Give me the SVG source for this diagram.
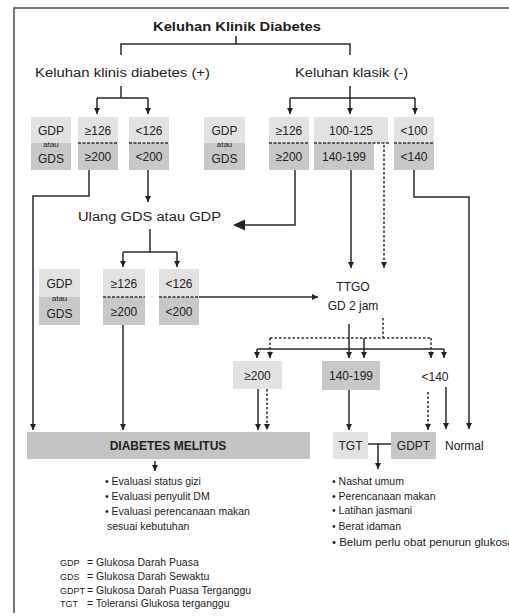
<svg xmlns="http://www.w3.org/2000/svg" width="509" height="616" viewBox="0 0 509 616">
  <defs>
    <marker id="arr" markerUnits="userSpaceOnUse" markerWidth="7" markerHeight="7" refX="6" refY="3.5" orient="auto">
      <path d="M0,0.5 L6,3.5 L0,6.5 Z" fill="#222"/>
    </marker>
  </defs>
  <style>
    text { font-family: "Liberation Sans", Arial, sans-serif; fill: #222; }
    .t { font-size: 12px; text-anchor: middle; }
    .s { font-size: 8px; text-anchor: middle; }
    .lbl { font-size: 12px; }
    .small { font-size: 10.5px; }
    .abbr { font-size: 9px; }
    .light { fill: #e2e2e2; }
    .dark { fill: #c8c8c8; }
    .ln { fill: none; stroke: #2a2a2a; stroke-width: 1.5; }
    .dash { fill: none; stroke: #2a2a2a; stroke-width: 1.5; stroke-dasharray: 2.5 2; }
    .div { stroke: #333; stroke-width: 1.5; stroke-dasharray: 3 1.5; }
    .frame { fill: none; stroke: #777; stroke-width: 2; }
  </style>
  <rect width="509" height="616" fill="#fff"/>
  <path class="frame" d="M14,613 V8 H509"/>

  <g id="title">
    <text x="237" y="31" font-size="13" font-weight="bold" text-anchor="middle" textLength="168" lengthAdjust="spacingAndGlyphs">Keluhan Klinik Diabetes</text>
  </g>
  <g id="klinis-plus">
    <text class="lbl" x="35" y="77" textLength="175" lengthAdjust="spacingAndGlyphs">Keluhan klinis diabetes (+)</text>
  </g>
  <g id="klasik-minus">
    <text class="lbl" x="295" y="77" textLength="113" lengthAdjust="spacingAndGlyphs">Keluhan klasik (-)</text>
  </g>

  <!-- first row of test results -->
  <g id="gdp-gds-1">
    <rect class="light" x="31" y="117" width="40" height="26"/>
    <rect class="dark" x="31" y="143" width="40" height="27"/>
    <text class="t" x="51" y="135">GDP</text>
    <text class="s" x="51" y="147">atau</text>
    <text class="t" x="51" y="163">GDS</text>
  </g>
  <g id="ge126-1">
    <rect class="light" x="78" y="117" width="40" height="26"/>
    <rect class="dark" x="78" y="143" width="40" height="27"/>
    <line class="div" x1="78" y1="143" x2="118" y2="143"/>
    <text class="t" x="98" y="135">≥126</text>
    <text class="t" x="98" y="161">≥200</text>
  </g>
  <g id="lt126-1">
    <rect class="light" x="129" y="117" width="40" height="26"/>
    <rect class="dark" x="129" y="143" width="40" height="27"/>
    <line class="div" x1="129" y1="143" x2="169" y2="143"/>
    <text class="t" x="149" y="135">&lt;126</text>
    <text class="t" x="149" y="161">&lt;200</text>
  </g>
  <g id="gdp-gds-2">
    <rect class="light" x="204" y="117" width="41" height="26"/>
    <rect class="dark" x="204" y="143" width="41" height="27"/>
    <text class="t" x="224.5" y="135">GDP</text>
    <text class="s" x="224.5" y="147">atau</text>
    <text class="t" x="224.5" y="163">GDS</text>
  </g>
  <g id="ge126-2">
    <rect class="light" x="269" y="117" width="40" height="26"/>
    <rect class="dark" x="269" y="143" width="40" height="27"/>
    <line class="div" x1="269" y1="143" x2="309" y2="143"/>
    <text class="t" x="289" y="135">≥126</text>
    <text class="t" x="289" y="161">≥200</text>
  </g>
  <g id="range-2">
    <rect class="light" x="314" y="117" width="74" height="26"/>
    <rect class="dark" x="314" y="143" width="60" height="27"/>
    <line class="div" x1="314" y1="143" x2="390" y2="143"/>
    <text class="t" x="351" y="135">100-125</text>
    <text class="t" x="344" y="161">140-199</text>
  </g>
  <g id="lt100-2">
    <rect class="light" x="394" y="117" width="40" height="26"/>
    <rect class="dark" x="394" y="143" width="40" height="27"/>
    <line class="div" x1="394" y1="143" x2="434" y2="143"/>
    <text class="t" x="414" y="135">&lt;100</text>
    <text class="t" x="414" y="161">&lt;140</text>
  </g>

  <g id="ulang">
    <text class="lbl" x="78" y="221" textLength="143" lengthAdjust="spacingAndGlyphs">Ulang GDS atau GDP</text>
  </g>

  <!-- second row of test results -->
  <g id="gdp-gds-3">
    <rect class="light" x="39" y="269" width="41" height="28"/>
    <rect class="dark" x="39" y="297" width="41" height="28"/>
    <text class="t" x="59.5" y="288">GDP</text>
    <text class="s" x="59.5" y="301">atau</text>
    <text class="t" x="59.5" y="318">GDS</text>
  </g>
  <g id="ge126-3">
    <rect class="light" x="103" y="269" width="42" height="28"/>
    <rect class="dark" x="103" y="297" width="42" height="28"/>
    <line class="div" x1="103" y1="297" x2="145" y2="297"/>
    <text class="t" x="124" y="288">≥126</text>
    <text class="t" x="124" y="316">≥200</text>
  </g>
  <g id="lt126-3">
    <rect class="light" x="159" y="269" width="40" height="28"/>
    <rect class="dark" x="159" y="297" width="40" height="28"/>
    <line class="div" x1="159" y1="297" x2="199" y2="297"/>
    <text class="t" x="179" y="288">&lt;126</text>
    <text class="t" x="179" y="316">&lt;200</text>
  </g>

  <g id="ttgo">
    <text class="t" x="353" y="291">TTGO</text>
    <text class="t" x="353" y="310">GD 2 jam</text>
  </g>

  <!-- TTGO outcomes -->
  <g id="ttgo-ge200">
    <rect class="light" x="233" y="361" width="49" height="28"/>
    <text class="t" x="257.5" y="380">≥200</text>
  </g>
  <g id="ttgo-140-199">
    <rect class="dark" x="322" y="361" width="58" height="29"/>
    <text class="t" x="351" y="380">140-199</text>
  </g>
  <g id="ttgo-lt140">
    <text class="t" x="435" y="381">&lt;140</text>
  </g>

  <g id="dm">
    <rect x="27" y="432" width="283" height="27" fill="#c4c4c4"/>
    <text x="168" y="450" font-size="12" font-weight="bold" text-anchor="middle">DIABETES MELITUS</text>
  </g>
  <g id="tgt">
    <rect class="light" x="333" y="432" width="35" height="27"/>
    <text class="t" x="350.5" y="450">TGT</text>
  </g>
  <g id="gdpt">
    <rect class="dark" x="391" y="432" width="45" height="27"/>
    <text class="t" x="413.5" y="450">GDPT</text>
  </g>
  <g id="normal">
    <text class="lbl" x="445" y="450">Normal</text>
  </g>

  <g id="dm-actions">
    <text class="small" x="105" y="485">• Evaluasi status gizi</text>
    <text class="small" x="105" y="500">• Evaluasi penyulit DM</text>
    <text class="small" x="105" y="515">• Evaluasi perencanaan makan</text>
    <text class="small" x="107" y="530">sesuai kebutuhan</text>
  </g>
  <g id="tgt-actions">
    <text class="small" x="332" y="485">• Nashat umum</text>
    <text class="small" x="332" y="500">• Perencanaan makan</text>
    <text class="small" x="332" y="514">• Latihan jasmani</text>
    <text class="small" x="332" y="530">• Berat idaman</text>
    <text class="small" x="332" y="546" textLength="182" lengthAdjust="spacingAndGlyphs">• Belum perlu obat penurun glukosa</text>
  </g>

  <g id="legend">
    <text class="abbr" x="60" y="566">GDP</text>
    <text class="small" x="87" y="566">= Glukosa Darah Puasa</text>
    <text class="abbr" x="60" y="580">GDS</text>
    <text class="small" x="87" y="580">= Glukosa Darah Sewaktu</text>
    <text class="abbr" x="60" y="594">GDPT</text>
    <text class="small" x="87" y="594">= Glukosa Darah Puasa Terganggu</text>
    <text class="abbr" x="60" y="607">TGT</text>
    <text class="small" x="87" y="607">= Toleransi Glukosa terganggu</text>
  </g>

  <g id="connectors">
    <path class="ln" d="M236,36 V44 M121,55 V44 H350 V55"/>
    <path class="ln" d="M121,86 V98 M97,98 H148"/>
    <path class="ln" d="M97,98 V114" marker-end="url(#arr)"/>
    <path class="ln" d="M148,98 V114" marker-end="url(#arr)"/>
    <path class="ln" d="M350,86 V98 M290,98 H415"/>
    <path class="ln" d="M290,98 V114" marker-end="url(#arr)"/>
    <path class="ln" d="M350,98 V114" marker-end="url(#arr)"/>
    <path class="ln" d="M415,98 V114" marker-end="url(#arr)"/>

    <path class="ln" d="M89,170 V196 H33 V430" marker-end="url(#arr)"/>
    <path class="ln" d="M148,170 V202" marker-end="url(#arr)"/>
    <path class="ln" d="M295,170 V225 H242"/>
    <polygon points="233,225 245,219.5 245,230.5" fill="#222"/>
    <path class="ln" d="M351,170 V268" marker-end="url(#arr)"/>
    <path class="dash" d="M384,145 V268" marker-end="url(#arr)"/>
    <path class="ln" d="M414,170 V197 H469 V429" marker-end="url(#arr)"/>

    <path class="ln" d="M150,229 V252 M123,252 H177"/>
    <path class="ln" d="M123,252 V267" marker-end="url(#arr)"/>
    <path class="ln" d="M177,252 V267" marker-end="url(#arr)"/>
    <path class="ln" d="M199,297 H318" marker-end="url(#arr)"/>
    <path class="ln" d="M123,325 V430" marker-end="url(#arr)"/>

    <path class="ln" d="M349,324 V358" marker-end="url(#arr)"/>
    <path class="dash" d="M383,318 V338 M270,338 H431"/>
    <path class="dash" d="M270,338 V358" marker-end="url(#arr)"/>
    <path class="dash" d="M431,338 V358" marker-end="url(#arr)"/>
    <path class="ln" d="M364,338 V358" marker-end="url(#arr)"/>
    <path class="ln" d="M257,349 H444"/>
    <path class="ln" d="M257,349 V358" marker-end="url(#arr)"/>
    <path class="ln" d="M444,349 V358" marker-end="url(#arr)"/>

    <path class="ln" d="M258,389 V430" marker-end="url(#arr)"/>
    <path class="dash" d="M267,389 V430" marker-end="url(#arr)"/>
    <path class="ln" d="M349,390 V430" marker-end="url(#arr)"/>
    <path class="dash" d="M428,392 V430" marker-end="url(#arr)"/>
    <path class="ln" d="M446,387 V429" marker-end="url(#arr)"/>

    <path class="ln" d="M368,444 H391 M378,444 V469" marker-end="url(#arr)"/>
    <path class="ln" d="M155,461 V471" marker-end="url(#arr)"/>
  </g>
</svg>
